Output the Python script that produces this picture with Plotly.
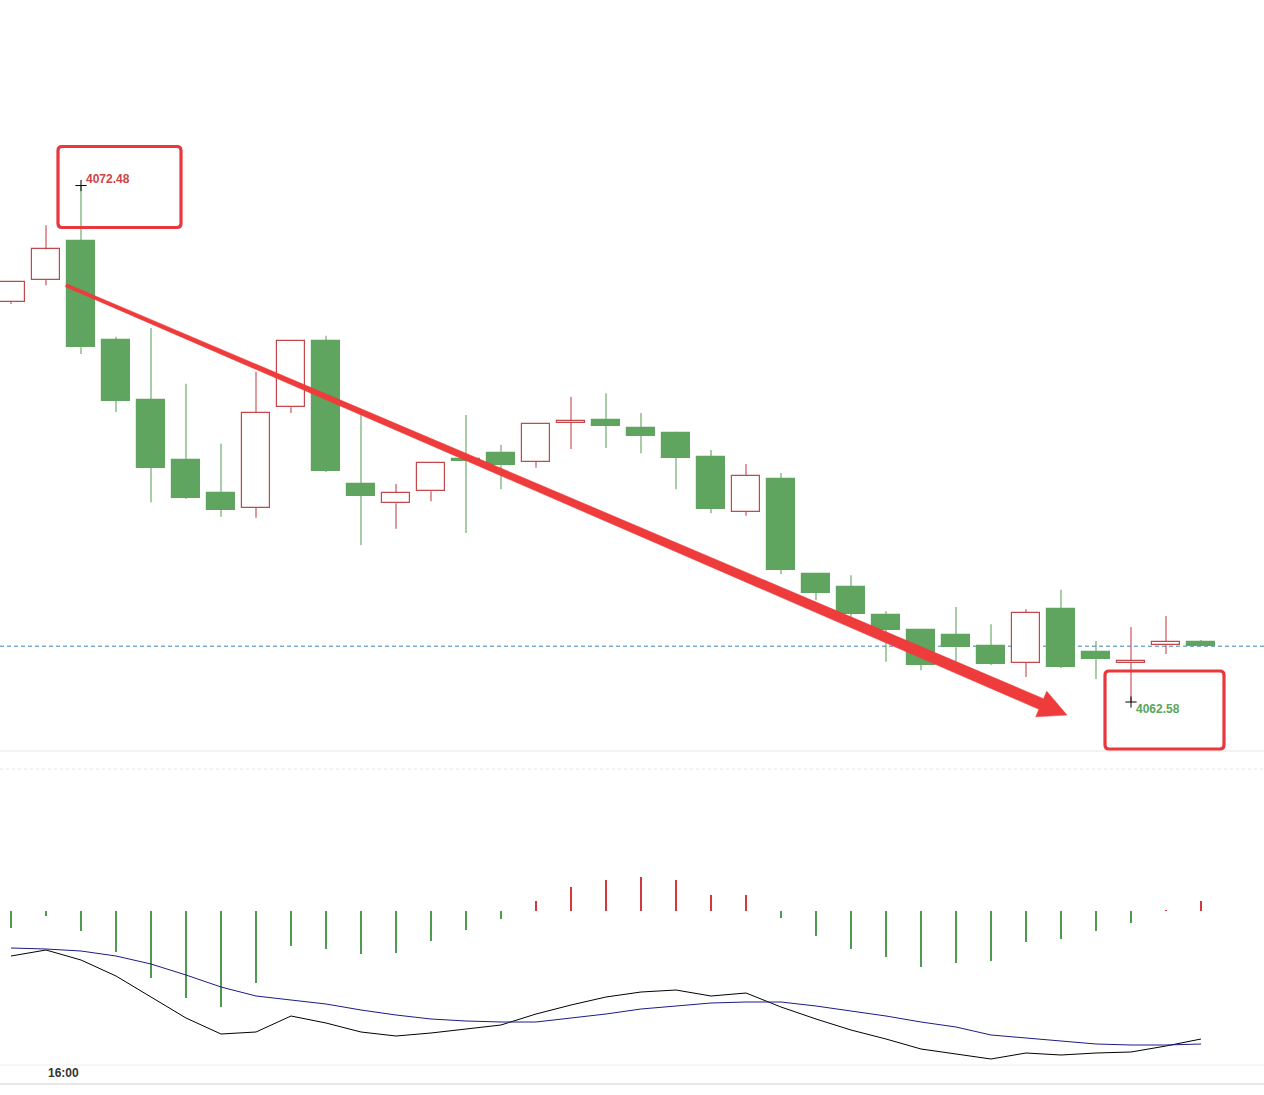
import math
import plotly.graph_objects as go

W, H = 1264, 1095

# ---------------- data ----------------
idx = list(range(35))
opens = [4070.25, 4070.67, 4071.42, 4069.52, 4068.37, 4067.22, 4066.59, 4066.30, 4068.23, 4069.50,
         4066.76, 4066.39, 4066.62, 4067.24, 4067.35, 4067.18, 4067.93, 4067.99, 4067.83, 4067.74,
         4067.28, 4066.22, 4066.85, 4065.03, 4064.78, 4064.25, 4063.96, 4063.86, 4063.65, 4063.33,
         4064.36, 4063.54, 4063.33, 4063.67, 4063.73]
highs = [4070.65, 4071.72, 4072.48, 4069.58, 4069.75, 4068.68, 4067.53, 4068.91, 4069.52, 4069.60,
         4068.12, 4066.76, 4067.18, 4068.08, 4067.51, 4067.93, 4068.43, 4068.50, 4068.12, 4067.76,
         4067.41, 4067.14, 4066.97, 4065.05, 4065.01, 4064.32, 4063.98, 4064.40, 4064.07, 4064.36,
         4064.73, 4063.75, 4064.02, 4064.23, 4063.77]
lows = [4070.21, 4070.57, 4069.25, 4068.14, 4066.41, 4066.47, 4066.13, 4066.11, 4068.12, 4066.99,
        4065.59, 4065.90, 4066.43, 4065.82, 4066.66, 4067.07, 4067.43, 4067.45, 4067.35, 4066.66,
        4066.20, 4066.15, 4065.03, 4064.53, 4064.21, 4063.35, 4063.19, 4063.35, 4063.29, 4063.06,
        4063.23, 4063.02, 4062.58, 4063.50, 4063.65]
closes = [4070.63, 4071.26, 4069.38, 4068.35, 4067.07, 4066.49, 4066.26, 4068.12, 4069.50, 4067.01,
          4066.53, 4066.59, 4067.16, 4067.20, 4067.12, 4067.91, 4067.97, 4067.87, 4067.68, 4067.26,
          4066.28, 4066.91, 4065.11, 4064.67, 4064.27, 4063.96, 4063.29, 4063.63, 4063.31, 4064.29,
          4063.25, 4063.40, 4063.37, 4063.73, 4063.65]

dif = [-0.45, -0.39, -0.49, -0.65, -0.86, -1.07, -1.23, -1.21, -1.05, -1.12, -1.21, -1.25, -1.22,
       -1.18, -1.14, -1.03, -0.94, -0.86, -0.81, -0.79, -0.85, -0.82, -0.96, -1.08, -1.19, -1.28,
       -1.38, -1.43, -1.48, -1.42, -1.44, -1.42, -1.41, -1.35, -1.28]
dea = [-0.37, -0.38, -0.40, -0.45, -0.53, -0.64, -0.76, -0.85, -0.89, -0.93, -0.99, -1.04, -1.08,
       -1.10, -1.11, -1.11, -1.07, -1.03, -0.98, -0.95, -0.92, -0.91, -0.91, -0.95, -1.00, -1.05,
       -1.11, -1.16, -1.24, -1.27, -1.30, -1.33, -1.34, -1.34, -1.33]
hist = [-0.17, -0.05, -0.20, -0.41, -0.67, -0.87, -0.96, -0.72, -0.35, -0.38, -0.43, -0.42, -0.30,
        -0.19, -0.08, 0.10, 0.24, 0.31, 0.34, 0.31, 0.16, 0.16, -0.07, -0.25, -0.38, -0.46, -0.56,
        -0.52, -0.50, -0.31, -0.28, -0.20, -0.12, 0.01, 0.10]

time_labels = ["16:00"]
time_label_idx = [1]

# ---------------- styles ----------------
UP = "#c4474b"
DOWN = "#5fa55f"
BOX_RED = "#e8383c"

X_RANGE = [-0.3143, 35.8]
Y_RANGE = [4061.641, 4076.036]
MAIN_DOM = [1 - 751 / H, 1.0]
M_RANGE = [-1.54, 1.42]
MACD_DOM = [1 - 1065 / H, 1 - 769 / H]


def to_px(xv, yv, yr=Y_RANGE, dom=MAIN_DOM):
    x = (xv - X_RANGE[0]) / (X_RANGE[1] - X_RANGE[0]) * W
    frac = (yv - yr[0]) / (yr[1] - yr[0])
    yp = dom[0] + frac * (dom[1] - dom[0])
    return x, (1 - yp) * H


def pp(x, y):
    return f"{x / W:.5f},{1 - y / H:.5f}"


fig = go.Figure()

# candles drawn as wicks + bodies
for up, col, fill in [(True, UP, "white"), (False, DOWN, DOWN)]:
    sel = [i for i in idx if (closes[i] >= opens[i]) == up]
    wx, wy = [], []
    for i in sel:
        top, bot = max(opens[i], closes[i]), min(opens[i], closes[i])
        wx += [i, i, None, i, i, None]
        wy += [highs[i], top, None, bot, lows[i], None]
    fig.add_trace(go.Scatter(x=wx, y=wy, mode="lines", line=dict(color=col, width=1.1),
                             xaxis="x", yaxis="y", showlegend=False, hoverinfo="skip"))
    fig.add_trace(go.Bar(
        x=sel, base=[min(opens[i], closes[i]) for i in sel],
        y=[max(abs(closes[i] - opens[i]), 0.03) for i in sel], width=0.8,
        marker=dict(color=fill, line=dict(color=col, width=1.2)),
        xaxis="x", yaxis="y", showlegend=False, hoverinfo="skip"))

# extreme markers
imax = max(range(len(highs)), key=lambda i: highs[i])
imin = min(range(len(lows)), key=lambda i: lows[i])
fig.add_trace(go.Scatter(
    x=[idx[imax], idx[imin]], y=[highs[imax], lows[imin]], mode="markers",
    marker=dict(symbol="cross-thin", size=8, line=dict(color="black", width=1)),
    xaxis="x", yaxis="y", showlegend=False, hoverinfo="skip"))

# MACD
fig.add_trace(go.Bar(
    x=idx, y=hist, width=0.032,
    marker=dict(color=["#d2383c" if v > 0 else "#4f9a4f" for v in hist], line=dict(width=0)),
    xaxis="x2", yaxis="y2", showlegend=False, hoverinfo="skip"))
fig.add_trace(go.Scatter(x=idx, y=dif, mode="lines", line=dict(color="black", width=1),
                         xaxis="x2", yaxis="y2", showlegend=False, hoverinfo="skip"))
fig.add_trace(go.Scatter(x=idx, y=dea, mode="lines", line=dict(color="#1c1c86", width=1),
                         xaxis="x2", yaxis="y2", showlegend=False, hoverinfo="skip"))

shapes = []
# last close dashed line
shapes.append(dict(type="line", xref="paper", x0=0, x1=1, yref="y", y0=closes[-1], y1=closes[-1],
                   line=dict(color="#3b82b8", width=1, dash="4px,3px"), layer="below"))
# separators
for ypix, col, dash in [(751, "#e6e6e6", "solid"), (769, "#e4e4e4", "dot"),
                        (1065, "#eeeeee", "solid"), (1084, "#cfcfcf", "solid")]:
    shapes.append(dict(type="line", xref="paper", yref="paper", x0=0, x1=1,
                       y0=1 - ypix / H, y1=1 - ypix / H, line=dict(color=col, width=1, dash=dash)))


def rrect(x0, y0, x1, y1, r=4):
    return ("M " + pp(x0 + r, y0) + " L " + pp(x1 - r, y0) + " Q " + pp(x1, y0) + " " + pp(x1, y0 + r) +
            " L " + pp(x1, y1 - r) + " Q " + pp(x1, y1) + " " + pp(x1 - r, y1) +
            " L " + pp(x0 + r, y1) + " Q " + pp(x0, y1) + " " + pp(x0, y1 - r) +
            " L " + pp(x0, y0 + r) + " Q " + pp(x0, y0) + " " + pp(x0 + r, y0) + " Z")


# highlight boxes around the extremes
hx, hy = to_px(idx[imax], highs[imax])
lx, ly = to_px(idx[imin], lows[imin])
shapes.append(dict(type="path", xref="paper", yref="paper",
                   path=rrect(hx - 23, hy - 39, hx + 100, hy + 42),
                   line=dict(color=BOX_RED, width=3.2)))
shapes.append(dict(type="path", xref="paper", yref="paper",
                   path=rrect(lx - 26, ly - 31, lx + 93, ly + 47),
                   line=dict(color=BOX_RED, width=3.2)))

# tapered trend arrow
sx, sy = to_px(1.571, 4070.57)
tx, ty = to_px(30.17, 4062.33)
L = math.hypot(tx - sx, ty - sy)
dx, dy = (tx - sx) / L, (ty - sy) / L
nx, ny = -dy, dx
head_len, head_half, w0, w1 = 28, 14, 1.6, 5.8
bx, by = tx - dx * head_len, ty - dy * head_len
pts = [
    (sx + nx * w0, sy + ny * w0),
    (bx + nx * w1, by + ny * w1),
    (bx + nx * head_half, by + ny * head_half),
    (tx, ty),
    (bx - nx * head_half, by - ny * head_half),
    (bx - nx * w1, by - ny * w1),
    (sx - nx * w0, sy - ny * w0),
]
path = "M " + " L ".join(pp(x, y) for x, y in pts) + " Z"
shapes.append(dict(type="path", xref="paper", yref="paper", path=path,
                   fillcolor="#ee3b3b", line=dict(color="#ee3b3b", width=0.5)))

annotations = [
    dict(x=idx[imax], y=highs[imax], xref="x", yref="y", text=f"<b>{highs[imax]:.2f}</b>",
         showarrow=False, xanchor="left", yanchor="middle", xshift=3, yshift=7,
         font=dict(family="Liberation Sans, Arial", size=12, color="#d04444")),
    dict(x=idx[imin], y=lows[imin], xref="x", yref="y", text=f"<b>{lows[imin]:.2f}</b>",
         showarrow=False, xanchor="left", yanchor="middle", xshift=3, yshift=-7,
         font=dict(family="Liberation Sans, Arial", size=12, color="#5aa55a")),
]
for lab, i in zip(time_labels, time_label_idx):
    annotations.append(dict(x=i, y=1 - 1073 / H, xref="x2", yref="paper", text=f"<b>{lab}</b>",
                            showarrow=False, xanchor="left", yanchor="middle", xshift=0,
                            font=dict(family="Liberation Sans, Arial", size=12, color="#333333")))

axis_common = dict(showgrid=False, zeroline=False, showticklabels=False, ticks="", showline=False,
                   fixedrange=True)
fig.update_layout(
    width=W, height=H, margin=dict(l=0, r=0, t=0, b=0),
    paper_bgcolor="white", plot_bgcolor="white", barmode="overlay", bargap=0,
    xaxis=dict(range=X_RANGE, anchor="y", domain=[0, 1], **axis_common),
    yaxis=dict(range=Y_RANGE, domain=MAIN_DOM, anchor="x", **axis_common),
    xaxis2=dict(range=X_RANGE, anchor="y2", domain=[0, 1], **axis_common),
    yaxis2=dict(range=M_RANGE, domain=MACD_DOM, anchor="x2", **axis_common),
    shapes=shapes, annotations=annotations, showlegend=False,
)

fig.write_html("out.html", config={"displayModeBar": False},
               post_script="document.body.style.margin='0';document.body.style.overflow='hidden';")
